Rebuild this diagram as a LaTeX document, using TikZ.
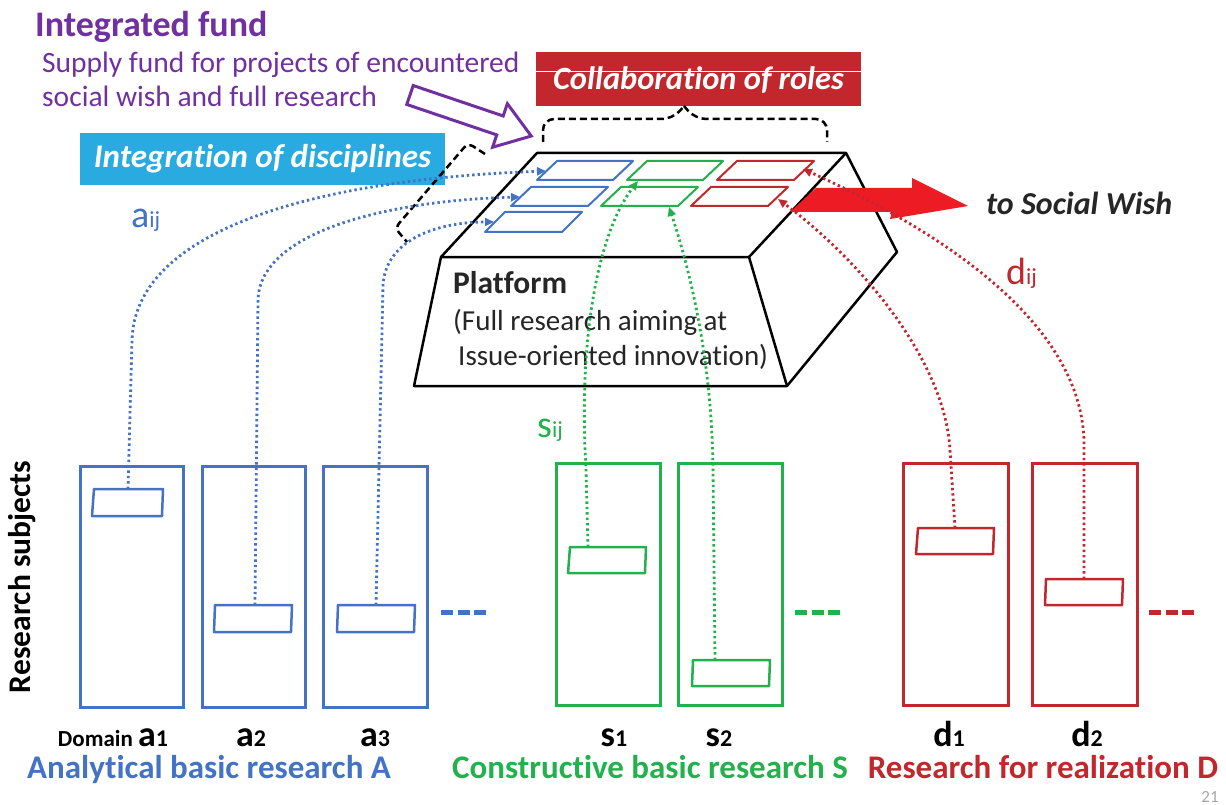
\documentclass[tikz,border=0pt]{standalone}
\usepackage{fontspec}
\setmainfont[Ligatures=NoCommon]{Carlito}
\usetikzlibrary{arrows.meta}
\definecolor{cblue}{HTML}{4472C4}
\definecolor{cgreen}{HTML}{22B14C}
\definecolor{cred}{HTML}{C1272D}
\definecolor{carrow}{HTML}{ED1C24}
\definecolor{cpurple}{HTML}{7030A0}
\definecolor{ccyan}{HTML}{29ABE2}
\definecolor{ctext}{HTML}{262626}
\definecolor{cgray}{HTML}{A6A6A6}
\newcommand{\fsz}[1]{\fontsize{#1}{#1}\selectfont}
\begin{document}
\begin{tikzpicture}[x=1pt,y=-1pt,
  bar/.style={draw=#1, line width=3pt, minimum width=103pt, minimum height=241pt, inner sep=0pt},
  sbox/.style={draw=#1, line width=2.5pt, line join=round},
  pgram/.style={draw=#1, line width=2pt, line join=round},
  conn/.style={draw=#1, line width=2.8pt, dash pattern=on 2.4pt off 3pt, -{Triangle[length=9pt,width=8pt]}},
  brk/.style={draw=black, line width=2.5pt, dash pattern=on 7pt off 4pt},
  platf/.style={draw=black, line width=2.5pt, line join=round},
  ddash/.style={draw=#1, line width=5pt, dash pattern=on 12pt off 4.5pt},
  blab/.style={anchor=base, inner sep=0pt, text depth=0pt, text=black, font=\bfseries},
  cat/.style={anchor=base, inner sep=0pt, font=\bfseries\fsz{33}},
  ]
\useasboundingbox (0,0) rectangle (1226,805);

% ---------- title texts ----------
\node[anchor=base west, inner sep=0pt, text=cpurple, font=\bfseries\fsz{36}] (fund) at (35,37) {Integrated fund};
\node[anchor=base west, inner sep=0pt, text=cpurple, font=\fsz{29.5}] (supply) at (42,73)
  {Supply fund for projects of encountered};
\node[anchor=base west, inner sep=0pt, text=cpurple, font=\fsz{29.5}] (supply2) at (42,107)
  {social wish and full research};

% ---------- purple hollow arrow ----------
\begin{scope}[shift={(410,95)}, rotate=-18.7]
  \draw[cpurple, line width=3pt, fill=white, line join=miter]
    (0,-10) -- (95,-10) -- (95,-23) -- (128,0) -- (95,23) -- (95,10) -- (0,10) -- cycle;
\end{scope}

% ---------- collaboration box ----------
\node[fill=cred, minimum width=325pt, minimum height=54pt, inner sep=0pt] (collab) at (698.5,79.5) {};
\draw[white, line width=1pt] (collab.west |- 0,72) -- (collab.east |- 0,72);
\node[text=white, font=\bfseries\itshape\fsz{32.5}] (collabt) at (698.5,80) {Collaboration of roles};

% ---------- integration box ----------
\node[fill=ccyan, minimum width=365pt, minimum height=52pt, inner sep=0pt, text=white,
      font=\bfseries\itshape\fsz{33}] (integ) at (262.5,159) {Integration of disciplines};

% ---------- platform ----------
\coordinate (p1) at (441,257);
\coordinate (p2) at (749,257);
\coordinate (p3) at (787,386);
\coordinate (p4) at (414,386);
\coordinate (p5) at (537,153);
\coordinate (p6) at (846,153);
\coordinate (p7) at (897,252);
\draw[platf, fill=white] (p1) -- (p5) -- (p6) -- (p7) -- (p3) -- (p4) -- cycle;
\draw[platf] (p1) -- (p2) -- (p3);
\draw[platf] (p2) -- (p6);

\node[anchor=base west, inner sep=0pt, text=ctext, font=\bfseries\fsz{31.5}] (plat) at (453,293) {Platform};
\node[anchor=base west, inner sep=0pt, text=ctext, font=\fsz{29}] (plat2) at (453,330) {(Full research aiming at};
\node[anchor=base west, inner sep=0pt, text=ctext, font=\fsz{29}] (plat3) at (458,365) {Issue-oriented innovation)};

% ---------- parallelograms on top ----------
\draw[pgram=cblue] (537,180) -- (557,161) -- (633,161) -- (613,180) -- cycle;
\draw[pgram=cblue] (511,206) -- (531,187) -- (608,187) -- (588,206) -- cycle;
\draw[pgram=cblue] (485,232) -- (505,212) -- (582,212) -- (562,232) -- cycle;
\draw[pgram=cgreen] (627,180) -- (647,161) -- (723,161) -- (703,180) -- cycle;
\draw[pgram=cgreen] (601,206) -- (621,187) -- (698,187) -- (678,206) -- cycle;
\draw[pgram=cred] (717,180) -- (737,161) -- (814,161) -- (794,180) -- cycle;
\draw[pgram=cred] (691,206) -- (711,187) -- (788,187) -- (768,206) -- cycle;
\coordinate (tb1) at (546,171);
\coordinate (tb2) at (520,197);
\coordinate (tb3) at (494,222);
\coordinate (tg1) at (638,181);
\coordinate (tg2) at (669,207);
\coordinate (tr1) at (803,169);
\coordinate (tr2) at (778,199);

% ---------- brackets ----------
\draw[brk, rounded corners=11pt] (543,142) -- (543,119) -- (673,119) -- (684,106);
\draw[brk, rounded corners=11pt] (684,106) -- (695,119) -- (827,119) -- (827,142);
\draw[brk, rounded corners=6pt] (485,154) -- (468,143) -- (395,228) -- (407,242);

% ---------- red arrow to social wish ----------
\fill[carrow] (790,212) -- (816,188) -- (912,188) -- (912,178) -- (968,206) -- (890,219) -- (892,212) -- cycle;
\node[anchor=west, inner sep=0pt, font=\bfseries\itshape\fsz{32}, text=ctext] (social) at (986,203) {to Social Wish};

% ---------- bars ----------
\node[bar=cblue, minimum width=103pt] (A1) at (131.5,586.5) {};
\node[bar=cblue, minimum width=103pt] (A2) at (253.5,586.5) {};
\node[bar=cblue, minimum width=104pt] (A3) at (375,586.5) {};
\node[bar=cgreen, minimum width=104pt, minimum height=242pt] (S1) at (608,584) {};
\node[bar=cgreen, minimum width=104pt, minimum height=242pt] (S2) at (730,584) {};
\node[bar=cred, minimum width=105pt, minimum height=242pt] (D1) at (955.5,584) {};
\node[bar=cred, minimum width=105pt, minimum height=242pt] (D2) at (1084.5,584) {};

% small boxes
\draw[sbox=cblue] (94,489) -- (163,489) -- (162,516) -- (92,516) -- cycle;
\draw[sbox=cblue] (215,605) -- (292,605) -- (291,632) -- (214,632) -- cycle;
\draw[sbox=cblue] (338,605) -- (415,605) -- (414,632) -- (337,632) -- cycle;
\draw[sbox=cgreen] (570,547) -- (646,547) -- (645,573) -- (568,573) -- cycle;
\draw[sbox=cgreen] (693,660) -- (770,660) -- (769,686) -- (692,686) -- cycle;
\draw[sbox=cred] (918,528) -- (994,528) -- (993,554) -- (916,554) -- cycle;
\draw[sbox=cred] (1046,579) -- (1123,579) -- (1122,605) -- (1045,605) -- cycle;
\coordinate (ba1) at (128,489);
\coordinate (ba2) at (255,605);
\coordinate (ba3) at (376,605);
\coordinate (bs1) at (588,547);
\coordinate (bs2) at (715,660);
\coordinate (bd1) at (955,528);
\coordinate (bd2) at (1084,579);

% dashes
\draw[ddash=cblue] (441,612) -- (486,612);
\draw[ddash=cgreen] (795,612) -- (840,612);
\draw[ddash=cred] (1149,612) -- (1195,612);

% ---------- dotted connectors ----------
\draw[conn=cblue] (ba1) -- (132,340) .. controls (135,235) and (300,180) .. (tb1);
\draw[conn=cblue] (ba2) -- (258,300) .. controls (260,228) and (400,200) .. (tb2);
\draw[conn=cblue] (ba3) -- (383,285) .. controls (386,238) and (440,222) .. (tb3);
\draw[conn=cgreen] (bs1) -- (586,470) .. controls (578,330) and (600,230) .. (tg1);
\draw[conn=cgreen] (bs2) -- (713,470) .. controls (712,360) and (690,270) .. (tg2);
\draw[conn=cred] (bd1) -- (950,450) .. controls (945,360) and (860,260) .. (tr2);
\draw[conn=cred] (bd2) -- (1084,440) .. controls (1080,330) and (960,240) .. (tr1);

% ---------- connector labels ----------
\node[anchor=base west, inner sep=0pt, text=cblue] (aij) at (131,228) {\fsz{38}a\fsz{23}ij};
\node[anchor=base west, inner sep=0pt, text=cgreen] (sij) at (537,437) {\fsz{38}s\fsz{23}ij};
\node[anchor=base west, inner sep=0pt, text=cred] (dij) at (1006,284) {\fsz{38}d\fsz{23}ij};

% ---------- bar labels ----------
\node[blab] (la1) at (113,746) {\fsz{23}Domain \fsz{36}a\fsz{24}1};
\node[blab] (la2) at (251,746) {\fsz{36}a\fsz{24}2};
\node[blab] (la3) at (375,746) {\fsz{36}a\fsz{24}3};
\node[blab] (ls1) at (614,746) {\fsz{36}s\fsz{24}1};
\node[blab] (ls2) at (719,746) {\fsz{36}s\fsz{24}2};
\node[blab] (ld1) at (949,746) {\fsz{36}d\fsz{24}1};
\node[blab] (ld2) at (1087,746) {\fsz{36}d\fsz{24}2};

\node[cat, text=cblue] (catA) at (209,778) {Analytical basic research A};
\node[cat, text=cgreen] (catS) at (650,778) {Constructive basic research S};
\node[cat, text=cred] (catD) at (1043,778) {Research for realization D};

\node[rotate=90, font=\bfseries\fsz{31.5}, text=black] (rs) at (22,577) {Research subjects};
\node[text=cgray, font=\fsz{17}] (pg) at (1210,797) {21};
\end{tikzpicture}
\end{document}
